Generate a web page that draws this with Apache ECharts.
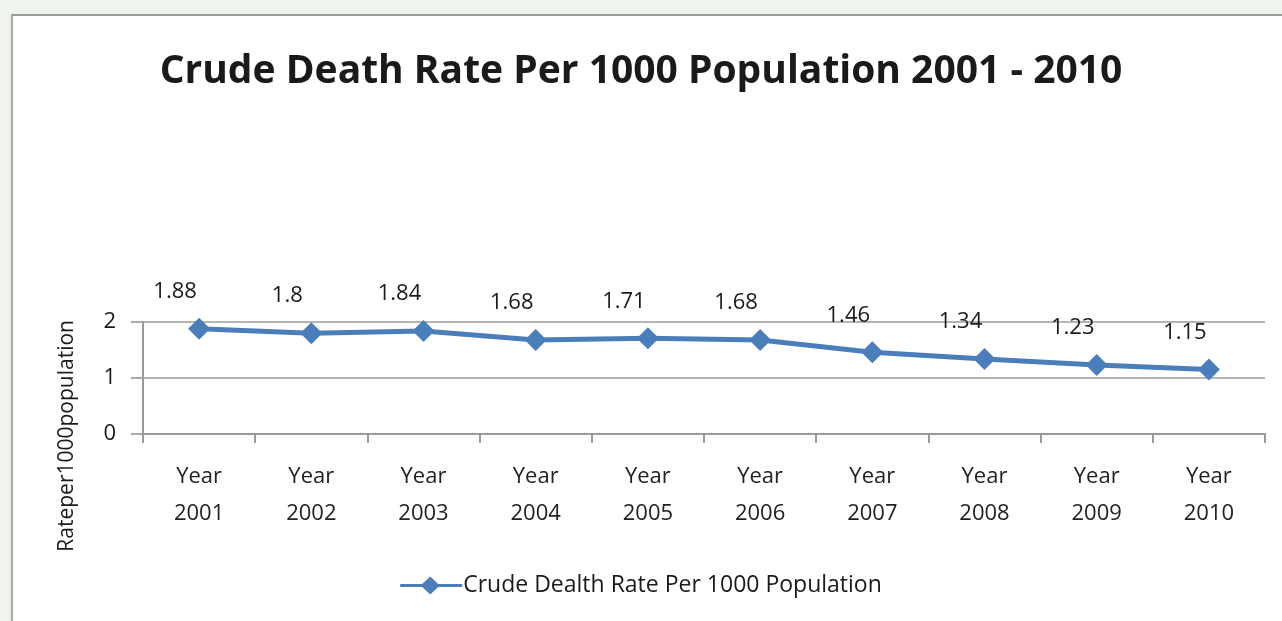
<!DOCTYPE html>
<html>
<head>
<meta charset="utf-8">
<title>Crude Death Rate Per 1000 Population 2001 - 2010</title>
<script src="https://cdn.jsdelivr.net/npm/echarts@6/dist/echarts.min.js"></script>
<style>
  html, body { margin: 0; padding: 0; background: #eef4ee; }
  #frame {
    position: absolute; left: 11px; top: 14px; width: 1290px; height: 640px;
    background: #ffffff; border-left: 2px solid #a8a8a8; border-top: 2px solid #9a9a9a;
    box-shadow: 0 2px 3px rgba(0,0,0,0.12);
  }
  #chart { position: absolute; left: 0; top: 0; width: 1282px; height: 621px; }
</style>
</head>
<body>
<div id="frame"></div>
<div id="chart"></div>
<script>
// Crude death rate per 1000 population, 2001-2010
const categories = ['Year\n2001', 'Year\n2002', 'Year\n2003', 'Year\n2004', 'Year\n2005',
                    'Year\n2006', 'Year\n2007', 'Year\n2008', 'Year\n2009', 'Year\n2010'];
const deathRate = [1.88, 1.8, 1.84, 1.68, 1.71, 1.68, 1.46, 1.34, 1.23, 1.15];
const yTicks = [0, 1, 2];
const seriesName = 'Crude Dealth Rate Per 1000 Population';
const yAxisTitle = 'Rateper1000population';

const lineBlue = '#4a7ebb';
const textFont = 'Open Sans';

const chart = echarts.init(document.getElementById('chart'), null, { renderer: 'canvas' });
chart.setOption({
  backgroundColor: 'transparent',
  animation: false,
  title: {
    text: 'Crude Death Rate Per 1000 Population 2001 - 2010',
    left: 'center',
    top: 47,
    textStyle: { fontFamily: textFont, fontWeight: 'bold', fontSize: 39, color: '#1a1a1a' }
  },
  legend: {
    bottom: 19,
    left: 'center',
    itemWidth: 62,
    itemHeight: 18,
    itemGap: 0,
    textStyle: { fontFamily: textFont, fontSize: 23, color: '#1a1a1a', padding: [0, 0, 0, -4] },
    data: [{
      name: seriesName,
      icon: 'path://M0,7.5 L22,7.5 L30,0 L38,7.5 L62,7.5 L62,10.5 L38,10.5 L30,18 L22,10.5 L0,10.5 Z'
    }]
  },
  grid: { left: 143, right: 17, top: 322, bottom: 187, containLabel: false },
  graphic: [{
    type: 'text',
    left: 57,
    top: 320,
    rotation: Math.PI / 2,
    style: {
      text: yAxisTitle,
      fontFamily: textFont,
      fontSize: 21,
      fill: '#1a1a1a'
    }
  }],
  xAxis: {
    type: 'category',
    data: categories,
    boundaryGap: true,
    axisLine: { lineStyle: { color: '#9a9a9a', width: 2 } },
    axisTick: { show: true, length: 9, lineStyle: { color: '#9a9a9a', width: 2 } },
    axisLabel: {
      fontFamily: 'Liberation Sans Narrow, ' + textFont,
      fontSize: 22, color: '#222', margin: 24, lineHeight: 37
    }
  },
  yAxis: {
    type: 'value',
    min: yTicks[0],
    max: yTicks[yTicks.length - 1],
    interval: 1,
    axisLine: { show: true, lineStyle: { color: '#9a9a9a', width: 2 } },
    axisTick: { show: true, length: 12, lineStyle: { color: '#a8a8a8', width: 2 } },
    splitLine: { show: true, lineStyle: { color: '#b4b4b4', width: 2 } },
    axisLabel: { fontFamily: textFont, fontSize: 22, color: '#1a1a1a', margin: 27 }
  },
  series: [{
    name: seriesName,
    type: 'line',
    data: deathRate,
    symbol: 'diamond',
    symbolSize: 22,
    lineStyle: { color: lineBlue, width: 5 },
    itemStyle: { color: lineBlue },
    label: {
      show: true,
      position: 'top',
      distance: 5,
      offset: [-24, -10],
      fontFamily: textFont,
      fontSize: 22,
      color: '#1a1a1a'
    }
  }]
});
</script>
</body>
</html>
